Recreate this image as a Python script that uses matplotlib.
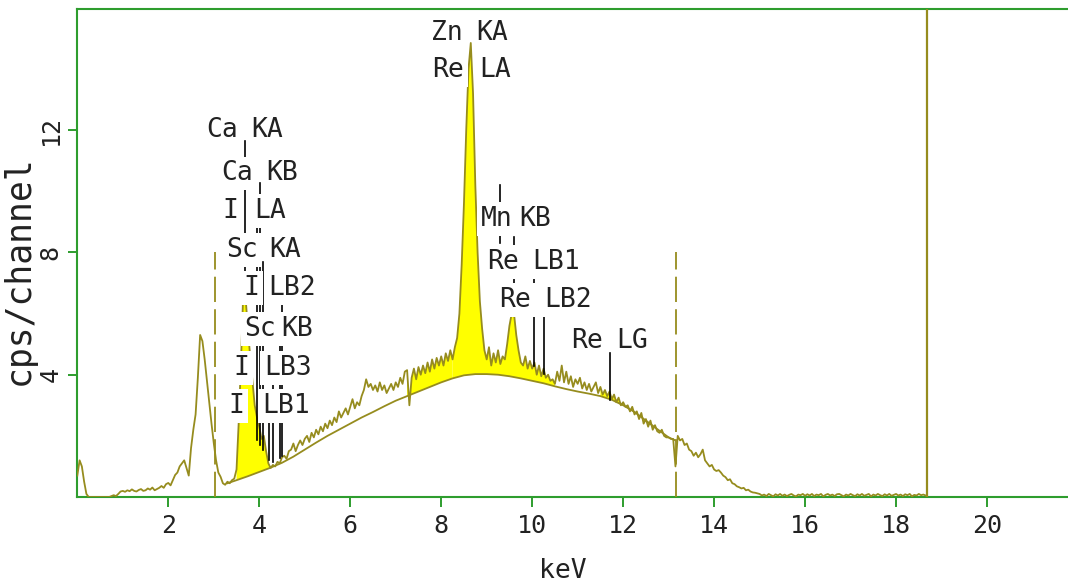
import numpy as np
import matplotlib.pyplot as plt

plt.rcParams['font.family'] = ['DejaVu Sans Mono', 'DejaVu Sans']

# spectrum, one value per 0.05 keV channel, one row per keV
step = 0.05
rows = [
    [0.7, 1.2, 1.0, 0.5, 0.1, 0.0, 0.0, 0.0, 0.0, 0.0, 0.0, 0.0, 0.0, 0.0, 0.0, 0.03, 0.06, 0.03, 0.1, 0.18],
    [0.2, 0.17, 0.22, 0.19, 0.25, 0.2, 0.18, 0.23, 0.26, 0.2, 0.22, 0.28, 0.24, 0.31, 0.22, 0.26, 0.3, 0.36, 0.3, 0.42],
    [0.46, 0.38, 0.55, 0.72, 0.8, 1.0, 1.1, 1.2, 0.95, 0.7, 1.6, 2.2, 2.7, 3.9, 5.3, 5.1, 4.5, 3.8, 3.1, 2.4],
    [1.76, 1.2, 0.8, 0.66, 0.45, 0.4, 0.5, 0.45, 0.55, 0.6, 0.9, 2.5, 4.5, 6.8, 6.5, 5.5, 4.6, 3.8, 3.0, 2.6],
    [2.3, 1.9, 2.0, 1.5, 1.1, 0.95, 1.05, 1.0, 1.15, 1.1, 1.3, 1.35, 1.25, 1.5, 1.55, 1.75, 1.5, 1.7, 1.85, 1.7],
    [1.9, 2.0, 1.8, 2.1, 1.95, 2.2, 2.05, 2.3, 2.15, 2.4, 2.25, 2.5, 2.35, 2.6, 2.45, 2.8, 2.6, 2.75, 2.9, 2.7],
    [2.95, 3.2, 2.9, 3.1, 3.0, 3.3, 3.5, 3.85, 3.6, 3.7, 3.5, 3.65, 3.45, 3.75, 3.5, 3.65, 3.4, 3.55, 3.7, 3.5],
    [3.75, 3.6, 3.9, 3.7, 4.1, 4.15, 3.0, 3.9, 4.2, 3.85, 4.25, 4.0, 4.3, 4.05, 4.4, 4.1, 4.5, 4.2, 4.55, 4.3],
    [4.6, 4.3, 4.7, 4.45, 4.8, 4.5, 4.9, 5.2, 6.0, 7.6, 9.6, 12.0, 14.0, 14.85, 13.2, 10.2, 8.0, 6.4, 5.5, 4.8],
    [4.5, 4.9, 4.3, 4.7, 4.4, 4.8, 4.35, 4.6, 4.5, 5.0, 5.6, 6.0, 6.0, 5.3, 4.8, 4.4, 4.3, 4.6, 4.2, 4.45],
    [4.2, 4.4, 4.0, 4.3, 3.95, 4.2, 3.9, 4.0, 3.8, 3.85, 3.7, 4.1, 3.8, 4.3, 3.75, 4.1, 3.7, 3.95, 3.6, 3.85],
    [3.7, 3.9, 3.55, 3.75, 3.5, 3.7, 3.45, 3.6, 3.75, 3.4, 3.6, 3.35, 3.5, 3.3, 3.45, 3.2, 3.35, 3.1, 3.25, 3.0],
    [3.1, 2.95, 3.0, 2.8, 2.95, 2.7, 2.8, 2.55, 2.75, 2.4, 2.55, 2.3, 2.5, 2.2, 2.35, 2.15, 2.1, 2.2, 2.0, 1.95],
    [1.95, 1.9, 1.9, 1.0, 2.0, 1.85, 1.9, 1.7, 1.75, 1.55, 1.5, 1.35, 1.45, 1.3, 1.4, 1.55, 1.2, 1.1, 1.0, 1.05],
    [0.9, 0.85, 0.88, 0.8, 0.7, 0.65, 0.55, 0.58, 0.45, 0.42, 0.35, 0.32, 0.28, 0.3, 0.22, 0.24, 0.18, 0.15, 0.14, 0.12],
    [0.1, 0.05, 0.08, 0.03, 0.1, 0.06, 0.02, 0.09, 0.05, 0.1, 0.04, 0.08, 0.03, 0.07, 0.1, 0.05, 0.02, 0.08, 0.06, 0.1],
    [0.04, 0.09, 0.05, 0.1, 0.03, 0.08, 0.06, 0.1, 0.02, 0.07, 0.1, 0.05, 0.08, 0.03, 0.09, 0.1, 0.06, 0.02, 0.08, 0.05],
    [0.1, 0.06, 0.03, 0.09, 0.05, 0.1, 0.04, 0.07, 0.1, 0.02, 0.08, 0.05, 0.1, 0.06, 0.03, 0.09, 0.05, 0.1, 0.04, 0.07],
    [0.1, 0.05, 0.08, 0.03, 0.09, 0.06, 0.1, 0.02, 0.07, 0.05, 0.1, 0.06, 0.08, 0.05],
]
cps = np.concatenate([np.array(r) for r in rows])
kev = np.arange(len(cps)) * step

# fitted background
bg_kev = [3.30, 3.50, 3.75, 4.00, 4.25, 4.50, 4.75, 5.00, 5.25, 5.50, 5.75, 6.00, 6.25, 6.50,
          6.75, 7.00, 7.25, 7.50, 7.75, 8.00, 8.25, 8.50, 8.75, 9.00, 9.25, 9.50, 9.75, 10.00,
          10.25, 10.50, 10.75, 11.00, 11.25, 11.50, 11.75, 12.00, 12.25, 12.50, 12.75, 13.00, 13.15]
bg_cps = [0.45, 0.55, 0.68, 0.82, 0.96, 1.12, 1.32, 1.55, 1.78, 2.0, 2.2, 2.4, 2.6, 2.78,
          2.97, 3.15, 3.3, 3.45, 3.6, 3.75, 3.88, 3.98, 4.02, 4.02, 4.0, 3.95, 3.88, 3.8,
          3.72, 3.62, 3.53, 3.45, 3.38, 3.3, 3.18, 3.0, 2.78, 2.5, 2.22, 1.95, 1.85]

# peak regions filled yellow
rois = [(3.5, 4.25), (7.25, 8.25), (8.25, 10.5), (11.5, 12.75)]

# line markers: energy, top, bottom (cps)
markers = [(3.69, 11.66, 6.8), (3.94, 8.98, 1.86), (4.01, 10.26, 1.7), (4.09, 7.67, 1.53),
           (4.22, 2.6, 1.2), (4.31, 3.89, 1.14), (4.46, 5.2, 1.27), (4.51, 6.5, 1.34),
           (9.30, 10.2, 8.3), (9.59, 8.5, 6.0), (10.03, 7.34, 4.3), (10.27, 6.1, 4.03),
           (11.70, 4.7, 3.17)]

# labels: element, line, x of element, x of line, y
labels = [("Ca", "KA", 2.84, 3.83, 12.09), ("Ca", "KB", 3.17, 4.16, 10.68),
          ("I", "LA", 3.19, 3.89, 9.44), ("Sc", "KA", 3.28, 4.22, 8.17),
          ("I", "LB2", 3.65, 4.20, 6.92), ("Sc", "KB", 3.68, 4.49, 5.58),
          ("I", "LB3", 3.43, 4.11, 4.31), ("I", "LB1", 3.32, 4.07, 3.07),
          ("Zn", "KA", 7.78, 8.77, 15.26), ("Re", "LA", 7.81, 8.84, 14.05),
          ("Mn", "KB", 8.88, 9.72, 9.18), ("Re", "LB1", 9.02, 10.00, 7.78),
          ("Re", "LB2", 9.28, 10.27, 6.54), ("Re", "LG", 10.86, 11.85, 5.20)]

dashed_kev = [3.03, 13.17]
cursor_kev = 18.68

olive = '#968c1e'
green = '#2e9d2e'
ink = '#222222'

fig = plt.figure(figsize=(10.68, 5.87), dpi=100)
ax = fig.add_axes([0.0724, 0.1533, 0.9276, 0.8308])

for a, b in rois:
    sel = (kev >= a - 1e-9) & (kev <= b + 1e-9)
    bsel = [(e, v) for e, v in zip(bg_kev, bg_cps) if a - 1e-9 <= e <= b + 1e-9]
    xs = list(kev[sel]) + [e for e, v in bsel][::-1]
    ys = list(cps[sel]) + [v for e, v in bsel][::-1]
    ax.fill(xs, ys, color='#ffff00', lw=0, zorder=2)

ax.plot(bg_kev, bg_cps, color=olive, lw=1.3, zorder=3)
ax.plot(kev, cps, color=olive, lw=1.3, zorder=3)

for e in dashed_kev:
    ax.plot([e, e], [0, 8.0], color=olive, lw=1.3, ls=(0, (14, 4)), zorder=3)
ax.plot([cursor_kev, cursor_kev], [0, 16], color=olive, lw=1.6, zorder=3)

for e, top, bot in markers:
    ax.plot([e, e], [bot, top], color='black', lw=1.2, zorder=4)

for el, ln, xe, xl, y in labels:
    for s, x in ((el, xe), (ln, xl)):
        ax.text(x, y, s, fontsize=19, color=ink, ha='left', va='center_baseline', zorder=6,
                bbox=dict(boxstyle='square,pad=0.15', fc='white', ec='none'))

ax.set_xlim(0, 21.78)
ax.set_ylim(0, 15.95)

for side in ['top', 'left', 'bottom']:
    ax.spines[side].set_color(green)
    ax.spines[side].set_linewidth(1.5)
ax.spines['right'].set_visible(False)

ax.set_xticks([2, 4, 6, 8, 10, 12, 14, 16, 18, 20])
ax.set_xticklabels(['2', '4', '6', '8', '10', '12', '14', '16', '18', '20'])
ax.set_yticks([4, 8, 12])
ax.set_yticklabels(['4', '8', '12'], rotation=90, va='center')
ax.tick_params(axis='x', direction='out', length=7, width=1.4, color=green,
               pad=5, labelsize=18, labelcolor=ink)
ax.tick_params(axis='y', direction='out', length=6.5, width=1.4, color=green,
               pad=4, labelsize=18, labelcolor=ink)

ax.set_xlabel('keV', fontsize=19, color=ink)
ax.xaxis.set_label_coords(0.49, -0.125)
ax.set_ylabel('cps/channel', fontsize=25, color=ink)
ax.yaxis.set_label_coords(-0.042, 0.465)

fig.savefig('out.png', dpi=100)
